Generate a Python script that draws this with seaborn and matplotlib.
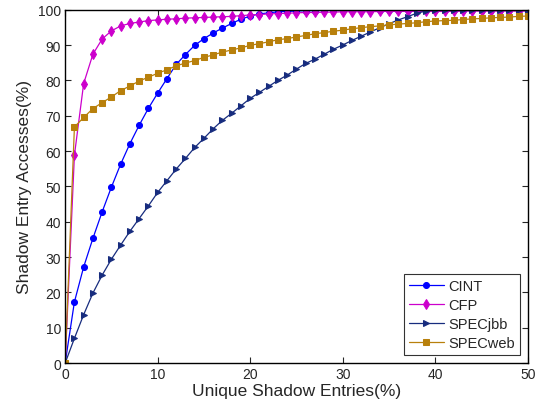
import numpy as np
import pandas as pd
import matplotlib
matplotlib.use("Agg")
import matplotlib.pyplot as plt
import seaborn as sns

x = list(range(0, 51))

cint = [0, 17.3, 27.2, 35.3, 42.8, 49.8, 56.3, 62.1, 67.3, 72.1, 76.4,
        80.5, 84.5, 87.3, 89.9, 91.8, 93.4, 94.8, 96.1, 97.3, 98.2,
        98.8, 99.1, 99.4, 99.5, 99.6, 99.7, 99.7, 99.8, 99.8, 99.9,
        99.9, 99.9, 100, 100, 100, 100, 100, 100, 100, 100,
        100, 100, 100, 100, 100, 100, 100, 100, 100, 100]
cfp = [0, 58.8, 79.1, 87.4, 91.7, 94.0, 95.4, 96.1, 96.5, 96.9, 97.1,
       97.3, 97.4, 97.6, 97.7, 97.8, 97.9, 98.0, 98.1, 98.3, 98.5,
       98.6, 98.8, 98.9, 99.0, 99.1, 99.2, 99.2, 99.3, 99.3, 99.4,
       99.4, 99.4, 99.4, 99.5, 99.5, 99.5, 99.5, 99.5, 99.5, 99.5,
       99.5, 99.5, 99.6, 99.6, 99.6, 99.6, 99.6, 99.6, 99.6, 99.6]
specjbb = [0, 7.0, 13.7, 19.8, 24.9, 29.4, 33.4, 37.3, 40.9, 44.5, 48.3,
           51.6, 54.9, 57.9, 61.0, 63.6, 66.3, 68.7, 70.7, 72.8, 74.9,
           76.6, 78.3, 80.0, 81.5, 83.2, 84.8, 86.0, 87.4, 88.8, 90.0,
           91.3, 92.5, 93.7, 94.9, 96.0, 97.1, 98.0, 99.0, 99.6, 100,
           100, 100, 100, 100, 100, 100, 100, 100, 100, 100]
specweb = [0, 66.8, 69.5, 72.0, 73.7, 75.3, 77.1, 78.4, 79.8, 80.9, 82.0,
           83.0, 84.1, 84.9, 85.6, 86.5, 87.2, 88.0, 88.6, 89.2, 89.9,
           90.4, 90.9, 91.5, 91.8, 92.3, 92.7, 93.2, 93.5, 93.9, 94.2,
           94.6, 94.9, 95.2, 95.4, 95.7, 95.9, 96.1, 96.3, 96.6, 96.8,
           96.9, 97.0, 97.2, 97.4, 97.5, 97.7, 97.8, 97.9, 98.1, 98.2]

names = ["CINT", "CFP", "SPECjbb", "SPECweb"]
colors = ["#0000FF", "#CC00CC", "#172C7E", "#B8800C"]
markers = ["o", "d", ">", "s"]
msizes = [4.3, 5.0, 5.0, 3.8]

df = pd.DataFrame({
    "x": x * 4,
    "y": cint + cfp + specjbb + specweb,
    "series": sum([[n] * len(x) for n in names], []),
})

sns.set_style("ticks")
plt.rcParams["font.family"] = ["Liberation Sans", "DejaVu Sans"]

fig, ax = plt.subplots(figsize=(5.43, 4.10), dpi=100)
fig.subplots_adjust(left=0.12, right=0.972, top=0.974, bottom=0.112)

for n, c, m, ms in zip(names, colors, markers, msizes):
    sub = df[df["series"] == n]
    sns.lineplot(data=sub, x="x", y="y", ax=ax, color=c, marker=m,
                 markersize=ms, markeredgecolor=c, linewidth=0.9,
                 label=n)

ax.set_xlim(0, 50)
ax.set_ylim(0, 100)
ax.set_xticks(range(0, 51, 10))
ax.set_yticks(range(0, 101, 10))
ax.tick_params(direction="in", top=True, right=True, labelsize=10,
               length=4, width=0.8, pad=3)
for s in ax.spines.values():
    s.set_visible(True)
    s.set_linewidth(1.0)
    s.set_color("black")
ax.set_xlabel("Unique Shadow Entries(%)", fontsize=12.5, labelpad=1)
ax.set_ylabel("Shadow Entry Accesses(%)", fontsize=12.5, labelpad=4)

leg = ax.legend(loc="lower right", fontsize=10.5, frameon=True, fancybox=False,
                edgecolor="black", handlelength=2.4, handletextpad=0.3,
                borderpad=0.35, labelspacing=0.35, borderaxespad=0.55)
leg.get_frame().set_linewidth(0.8)

fig.savefig("out.png", dpi=100)
